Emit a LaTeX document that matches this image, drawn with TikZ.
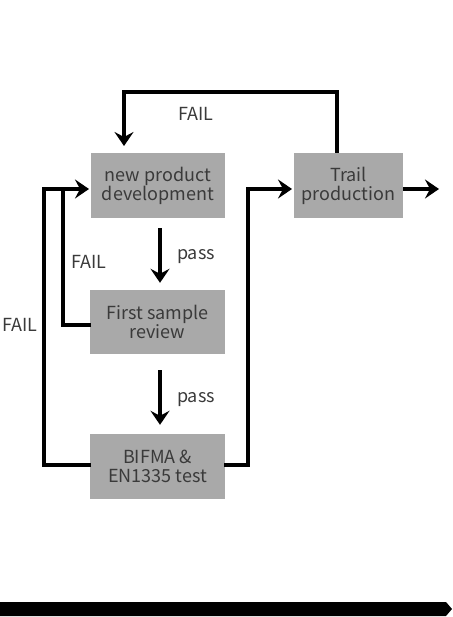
\documentclass[tikz,border=0pt]{standalone}
\usepackage{fontspec}
\setmainfont{Noto Sans CJK SC}
\usetikzlibrary{arrows.meta}
\definecolor{boxgray}{HTML}{A9A9A9}
\definecolor{txt}{HTML}{3A3A3A}
\begin{document}
\begin{tikzpicture}[x=1pt,y=-1pt,
  stepbox/.style={fill=boxgray,draw=none,text=txt,align=center,inner sep=0pt,
    font=\fontsize{18}{19}\selectfont},
  lbl/.style={text=txt,font=\fontsize{18}{19}\selectfont,inner sep=0pt},
  conn/.style={line width=4pt,line join=miter,
    -{Stealth[length=14pt,width=19pt,inset=5pt]}},
  plain/.style={line width=4pt,line join=miter}]
\useasboundingbox (0,0) rectangle (452,617);
% boxes
\node[stepbox,minimum width=134pt,minimum height=65pt] (npd) at (158,185.5) {new product\\development};
\node[stepbox,minimum width=109pt,minimum height=65pt] (trl) at (348.5,185.5) {Trail\\production};
\node[stepbox,minimum width=135pt,minimum height=64pt] (fsr) at (157.5,322) {First sample\\review};
\node[stepbox,minimum width=135pt,minimum height=65pt] (bif) at (157.5,466.5) {BIFMA \&\\EN1335 test};
% coordinates
\coordinate (topL) at (124,92);
\coordinate (npdTop) at (124,152);
\coordinate (outerX) at (44,465);
\coordinate (innerX) at (63,189);
\coordinate (npdIn) at (89,189);
\coordinate (trlIn) at (292,189);
\coordinate (trlOut) at (403,189);
\coordinate (outEnd) at (439,189);
\coordinate (rightX) at (248,465);
\coordinate (bifW) at (91,465);
\coordinate (bifE) at (224,465);
\coordinate (fsrW) at (91,325);
% top FAIL loop
\draw[conn,shorten >=6pt] (trl.north -| 337,0) |- (topL) -- (npdTop);
\node[lbl] (failTop) at (196,114) {FAIL};
% outer FAIL loop
\draw[conn] (bifW) -- (outerX) |- (npdIn);
\node[lbl] (failOut) at (20,325) {FAIL};
% inner FAIL loop
\draw[plain] (fsrW) -| (innerX);
\node[lbl] (failIn) at (89,262) {FAIL};
% pass arrows
\draw[conn] ([shift={(2pt,-10pt)}]npd.south) -- ([shift={(2.5pt,7pt)}]fsr.north);
\node[lbl] (pass1) at (196,257) {pass};
\draw[conn] ([shift={(2.5pt,-16pt)}]fsr.south) -- ([shift={(2.5pt,9pt)}]bif.north);
\node[lbl] (pass2) at (196,400) {pass};
% BIFMA to trail
\draw[conn] (bifE) -| (rightX) |- (trlIn);
% trail out
\draw[conn] (trlOut) -- (outEnd);
% bottom bar
\fill[black] (0,602) -- (446,602) -- (452,609) -- (446,616) -- (0,616) -- cycle;
\end{tikzpicture}
\end{document}
